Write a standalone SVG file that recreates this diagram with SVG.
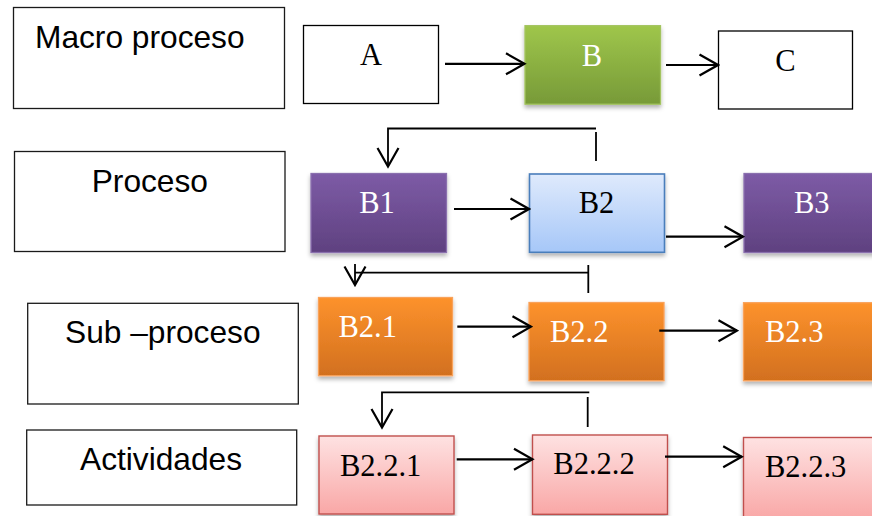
<svg xmlns="http://www.w3.org/2000/svg" width="872" height="516" viewBox="0 0 872 516">
  <style>
    .lvl { fill: #ffffff; stroke: #1a1a1a; stroke-width: 1.3; }
    .lvl-t { font-family: "Liberation Sans", Arial, sans-serif; font-size: 31.7px; fill: #000000; }
    .plain { fill: #ffffff; stroke: #000000; stroke-width: 1.3; }
    .nt { font-family: "Liberation Serif", "Times New Roman", serif; font-size: 30.5px; }
    .mid { text-anchor: middle; }
    .w { fill: #ffffff; }
    .k { fill: #000000; }
    .green { fill: url(#gGreen); stroke: #a3c45e; stroke-width: 1.3; filter: url(#shadow); }
    .purple { fill: url(#gPurple); stroke: #8a6fae; stroke-width: 1.3; filter: url(#shadow); }
    .blue { fill: url(#gBlue); stroke: #4a7ebb; stroke-width: 1.6; filter: url(#shadow); }
    .orange { fill: url(#gOrange); stroke: #f9a25a; stroke-width: 1.3; filter: url(#shadow); }
    .pink { fill: url(#gPink); stroke: #c0504d; stroke-width: 1.4; filter: url(#shadow); }
    .flow { fill: none; stroke: #000000; stroke-width: 2.2; marker-end: url(#arrow); }
    .link { fill: none; stroke: #000000; stroke-width: 1.8; }
    .link-a { fill: none; stroke: #000000; stroke-width: 1.8; marker-end: url(#arrow); }
  </style>
  <defs>
    <linearGradient id="gGreen" x1="0" y1="0" x2="0" y2="1">
      <stop offset="0" stop-color="#9fc64b"/>
      <stop offset="1" stop-color="#779a38"/>
    </linearGradient>
    <linearGradient id="gPurple" x1="0" y1="0" x2="0" y2="1">
      <stop offset="0" stop-color="#7d5ba6"/>
      <stop offset="1" stop-color="#5f4180"/>
    </linearGradient>
    <linearGradient id="gBlue" x1="0" y1="0" x2="0" y2="1">
      <stop offset="0" stop-color="#dfeafc"/>
      <stop offset="1" stop-color="#a6c7f8"/>
    </linearGradient>
    <linearGradient id="gOrange" x1="0" y1="0" x2="0" y2="1">
      <stop offset="0" stop-color="#fd922c"/>
      <stop offset="1" stop-color="#d2701f"/>
    </linearGradient>
    <linearGradient id="gPink" x1="0" y1="0" x2="0" y2="1">
      <stop offset="0" stop-color="#fee2e2"/>
      <stop offset="1" stop-color="#f9a7a6"/>
    </linearGradient>
    <filter id="shadow" x="-10%" y="-10%" width="120%" height="130%">
      <feDropShadow dx="0" dy="3" stdDeviation="2" flood-color="#000000" flood-opacity="0.3"/>
    </filter>
    <marker id="arrow" markerUnits="userSpaceOnUse" viewBox="0 0 22 24" markerWidth="22" markerHeight="24" refX="20" refY="12" orient="auto">
      <path d="M1.5,1.5 L20,12 L1.5,22.5" fill="none" stroke="#000000" stroke-width="2.2" stroke-linejoin="miter"/>
    </marker>
  </defs>

  <!-- level labels -->
  <g id="lvl-macro">
    <rect class="lvl" x="13.5" y="7.5" width="271" height="101"/>
    <text class="lvl-t" x="35" y="48.3">Macro proceso</text>
  </g>
  <g id="lvl-proceso">
    <rect class="lvl" x="14.5" y="151.5" width="270.5" height="100"/>
    <text class="lvl-t" x="91.7" y="191.7">Proceso</text>
  </g>
  <g id="lvl-sub">
    <rect class="lvl" x="27.7" y="303.3" width="270.6" height="100.7"/>
    <text class="lvl-t" x="65" y="343.3">Sub –proceso</text>
  </g>
  <g id="lvl-actividades">
    <rect class="lvl" x="26.7" y="430" width="270" height="75"/>
    <text class="lvl-t" x="80" y="470">Actividades</text>
  </g>

  <!-- macro process row -->
  <g id="node-A">
    <rect class="plain" x="303.5" y="25.5" width="135" height="78"/>
    <text class="nt mid k" x="371" y="65">A</text>
  </g>
  <g id="node-B">
    <rect class="green" x="525" y="25.7" width="135.5" height="78.5"/>
    <text class="nt mid w" x="592" y="66">B</text>
  </g>
  <g id="node-C">
    <rect class="plain" x="718.5" y="31" width="134" height="78"/>
    <text class="nt mid k" x="785.5" y="71">C</text>
  </g>

  <!-- process row -->
  <g id="node-B1">
    <rect class="purple" x="311" y="173.5" width="135.5" height="79"/>
    <text class="nt mid w" x="377" y="213.3">B1</text>
  </g>
  <g id="node-B2">
    <rect class="blue" x="529.5" y="174" width="135" height="78.3"/>
    <text class="nt mid k" x="596.5" y="213.3">B2</text>
  </g>
  <g id="node-B3">
    <rect class="purple" x="744" y="173.5" width="140" height="79"/>
    <text class="nt mid w" x="811.7" y="213.3">B3</text>
  </g>

  <!-- sub-process row -->
  <g id="node-B2-1">
    <rect class="orange" x="318.5" y="297.5" width="134" height="78.2"/>
    <text class="nt w" x="338.5" y="336.7">B2.1</text>
  </g>
  <g id="node-B2-2">
    <rect class="orange" x="529" y="302.5" width="135" height="78.2"/>
    <text class="nt w" x="550" y="341.7">B2.2</text>
  </g>
  <g id="node-B2-3">
    <rect class="orange" x="743.5" y="302.7" width="140" height="78"/>
    <text class="nt w" x="765" y="341.7">B2.3</text>
  </g>

  <!-- activities row -->
  <g id="node-B2-2-1">
    <rect class="pink" x="319" y="436" width="135" height="78"/>
    <text class="nt k" x="340" y="476">B2.2.1</text>
  </g>
  <g id="node-B2-2-2">
    <rect class="pink" x="532.5" y="435" width="135" height="79.3"/>
    <text class="nt k" x="553.3" y="474.3">B2.2.2</text>
  </g>
  <g id="node-B2-2-3">
    <rect class="pink" x="743.5" y="437.5" width="140" height="82"/>
    <text class="nt k" x="765" y="476.7">B2.2.3</text>
  </g>

  <!-- connectors -->
  <g id="connectors">
    <path class="flow" d="M445,63.8 H524.5"/>
    <path class="flow" d="M666,65 H718"/>
    <path class="link-a" d="M596,128.5 H388 V166.5"/>
    <path class="link" d="M596,132 V161"/>
    <path class="flow" d="M454,209 H529"/>
    <path class="flow" d="M666,236.7 H743"/>
    <path class="link" d="M588.3,265 V293 M588.3,272.7 H355"/>
    <path class="link-a" d="M355,264 V285"/>
    <path class="flow" d="M457.3,326.7 H531"/>
    <path class="flow" d="M659.3,330.7 H737"/>
    <path class="link-a" d="M589.3,392.3 H382 V427.5"/>
    <path class="link" d="M587.7,397 V427"/>
    <path class="flow" d="M456.7,459.3 H532.5"/>
    <path class="flow" d="M665,456.7 H741.7"/>
  </g>
</svg>
